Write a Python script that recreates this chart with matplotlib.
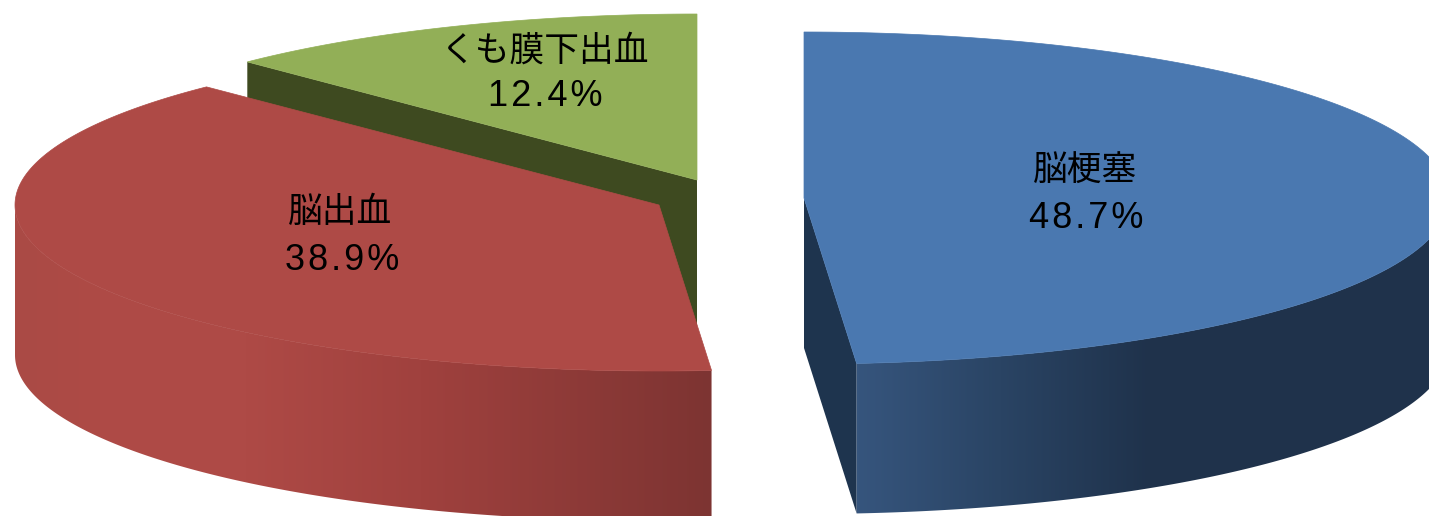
#!/usr/bin/env python3
"""Exploded 3D-look pie of stroke types."""
import numpy as np
import matplotlib
matplotlib.use("Agg")
import matplotlib.pyplot as plt
from matplotlib.patches import Polygon

categories = ["脳梗塞", "脳出血", "くも膜下出血"]
shares = [48.7, 38.9, 12.4]

W, H = 1429, 516
DEPTH = 150
CJK = ["Noto Sans CJK JP", "DejaVu Sans"]
LATIN = ["Liberation Sans", "DejaVu Sans"]

# per slice layout in pixels: apex, radii, top colour, cut face colour
apex = [(804, 198), (659, 205), (697, 180)]
radii = [(645, 166), (644, 166), (640, 166)]
top_col = ["#4A78B0", "#AE4A46", "#92AF57"]
cut_col = ["#1E344E", None, "#3E4A20"]
label_xy = [(1085, 171), (340, 212), (545, 51)]
pct_xy = [(1086, 219), (342, 260), (545, 97)]

# wall shading, left to right
wall_stops = {
    0: ([858, 1000, 1150], [(54, 85, 125), (42, 68, 100), (31, 50, 75)]),
    1: ([15, 100, 245, 420, 711], [(170, 75, 69), (174, 74, 70), (174, 74, 70), (160, 65, 62), (125, 52, 50)]),
}


def rim(i, t):
    # t is clockwise from 12 o'clock, degrees
    t = np.radians(t)
    return apex[i][0] + radii[i][0] * np.sin(t), apex[i][1] - radii[i][1] * np.cos(t)


fig = plt.figure(figsize=(W / 100, H / 100), dpi=100)
ax = fig.add_axes([0, 0, 1, 1])
ax.axis("off")

edges = np.concatenate([[0], np.cumsum(shares)]) / np.sum(shares) * 360
# paint back to front
for i in [2, 1, 0]:
    t0, t1 = edges[i], edges[i + 1]
    z = 3 - i

    # cut face hanging under the edge that faces the viewer
    if cut_col[i]:
        rx, ry = rim(i, t0 if i == 2 else t1)
        px0, py0 = apex[i]
        cut = [(px0, py0), (rx, ry), (rx, ry + DEPTH), (px0, py0 + DEPTH)]
        ax.add_patch(Polygon(cut, closed=True, fc=cut_col[i], ec="none", zorder=z))

    # outer wall, only the front half of the rim shows
    lo, hi = max(t0, 90), min(t1, 270)
    if lo < hi:
        wx, wy = rim(i, np.linspace(lo, hi, 240))
        verts = np.r_[np.c_[wx, wy], np.c_[wx[::-1], wy[::-1] + DEPTH]]
        clip = Polygon(verts, closed=True, fc="none", ec="none", zorder=z)
        ax.add_patch(clip)
        stop_x, stop_c = wall_stops[i]
        stop_c = np.array(stop_c)
        grad = np.stack([np.interp(np.arange(W), stop_x, stop_c[:, c]) for c in range(3)], axis=-1) / 255
        im = ax.imshow(grad[np.newaxis, :, :], extent=(0, W, H, 0), aspect="auto", zorder=z)
        im.set_clip_path(clip)

    # top face
    xs, ys = rim(i, np.linspace(t0, t1, 240))
    top = np.r_[[apex[i]], np.c_[xs, ys]]
    ax.add_patch(Polygon(top, closed=True, fc=top_col[i], ec=top_col[i], lw=0.5, zorder=z + 0.5))

    ax.text(*label_xy[i], categories[i], family=CJK, fontsize=25, color="black",
            ha="center", va="center", zorder=10)
    pct = "\u200a".join(f"{shares[i]:.1f}%")
    ax.text(*pct_xy[i], pct, family=LATIN, fontsize=26, color="black",
            ha="center", va="center", zorder=10)

ax.set_xlim(0, W)
ax.set_ylim(H, 0)
fig.savefig("out.png", dpi=100, facecolor="white")
